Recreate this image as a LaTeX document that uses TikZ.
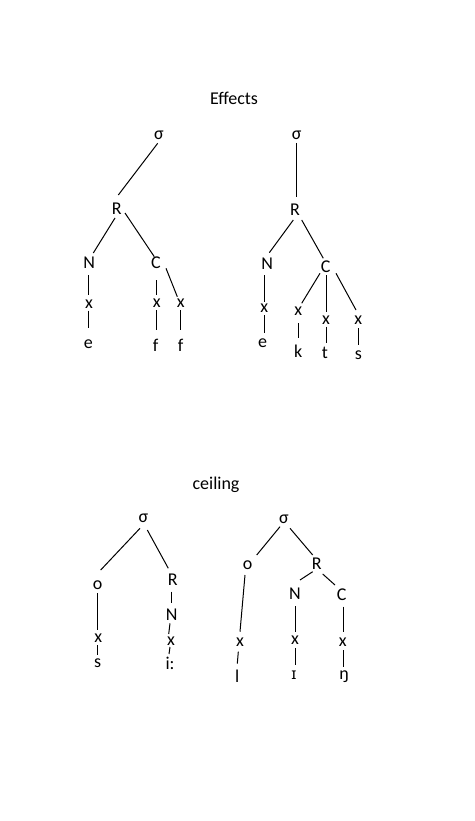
\documentclass[tikz,border=0pt]{standalone}
\usepackage{fontspec}
\setmainfont{Carlito}
\newfontfamily\ipafont{Noto Sans}
\begin{document}
\begin{tikzpicture}[x=1pt,y=-1pt,
  lab/.style={inner sep=0pt,font=\fontsize{18}{20}\selectfont},
  link/.style={line width=1pt}]
\useasboundingbox[fill=white] (0,0) rectangle (474,821);
% titles
\node[lab] (t1) at (234,98) {Effects};
\node[lab] (t2) at (216,485) {ceiling};
% ---- tree 1
\node[lab] (s1) at (159,135) {σ};
\node[lab] (R1) at (116.7,208.3) {R};
\node[lab] (N1) at (89.3,262.7) {N};
\node[lab] (xa) at (89,304) {x};
\node[lab] (e1) at (88.3,344) {e};
\node[lab] (C1) at (156,262.7) {C};
\node[lab] (xb) at (156.7,303) {x};
\node[lab] (f1) at (155.7,345) {f};
\node[lab] (xc) at (180.7,303.3) {x};
\node[lab] (f2) at (180.7,345) {f};
\draw[link] ([shift={(-1.3,8.3)}]s1.center) -- ([shift={(1.6,-13.3)}]R1.center);
\draw[link] ([shift={(-1.7,9.7)}]R1.center) -- ([shift={(4,-9.7)}]N1.center);
\draw[link] ([shift={(8.3,4.7)}]R1.center) -- ([shift={(-1.7,-6)}]C1.center);
\draw[link] ([shift={(-1,12.3)}]N1.center) -- ([shift={(-0.7,-9)}]xa.center);
\draw[link] ([shift={(-0.7,6.5)}]xa.center) -- ([shift={(0,-16)}]e1.center);
\draw[link] ([shift={(0.7,17.3)}]C1.center) -- ([shift={(0,-8)}]xb.center);
\draw[link] ([shift={(0,7)}]xb.center) -- ([shift={(1,-15)}]f1.center);
\draw[link] ([shift={(10,5.6)}]C1.center) -- ([shift={(-3.4,-6.6)}]xc.center);
\draw[link] ([shift={(0,6.7)}]xc.center) -- ([shift={(0,-15)}]f2.center);
% ---- tree 2
\node[lab] (s2) at (296.7,135) {σ};
\node[lab] (R2) at (295,209.3) {R};
\node[lab] (N2) at (267.3,264) {N};
\node[lab] (xd) at (264.3,308.3) {x};
\node[lab] (e2) at (262.7,343.3) {e};
\node[lab] (C2) at (325.7,266.7) {C};
\node[lab] (xe) at (298.3,311.7) {x};
\node[lab] (k2) at (298.3,351.7) {k};
\node[lab] (xf) at (326,320) {x};
\node[lab] (t2b) at (325,353.3) {t};
\node[lab] (xg) at (358.3,320) {x};
\node[lab] (s2b) at (358.3,355) {s};
\draw[link] ([shift={(-0.7,8)}]s2.center) -- ([shift={(1,-12.6)}]R2.center);
\draw[link] ([shift={(-1.7,10.7)}]R2.center) -- ([shift={(2,-11.3)}]N2.center);
\draw[link] ([shift={(6.7,10.7)}]R2.center) -- ([shift={(-2.4,-8.4)}]C2.center);
\draw[link] ([shift={(-3,11)}]N2.center) -- ([shift={(0,-6.6)}]xd.center);
\draw[link] ([shift={(0,6.7)}]xd.center) -- ([shift={(1.6,-10.3)}]e2.center);
\draw[link] ([shift={(-5.7,6.6)}]C2.center) -- ([shift={(3.4,-8.4)}]xe.center);
\draw[link] ([shift={(0,11.3)}]xe.center) -- ([shift={(0,-13.7)}]k2.center);
\draw[link] ([shift={(1,8.3)}]C2.center) -- ([shift={(0.7,-8.3)}]xf.center);
\draw[link] ([shift={(0,6.7)}]xf.center) -- ([shift={(1,-10.3)}]t2b.center);
\draw[link] ([shift={(10.3,6.6)}]C2.center) -- ([shift={(-2.3,-10)}]xg.center);
\draw[link] ([shift={(0,8)}]xg.center) -- ([shift={(0,-10)}]s2b.center);
% ---- tree 3
\node[lab] (s3) at (143.3,518.3) {σ};
\node[lab] (o3) at (97.7,585) {o};
\node[lab] (x3a) at (98.3,638.3) {x};
\node[lab] (ss3) at (97.7,663.3) {s};
\node[lab] (R3) at (172.7,580) {R};
\node[lab] (N3) at (171.7,615) {N};
\node[lab] (x3b) at (171,640.7) {x};
\node[lab] (i3) at (170,663.3) {i:};
\draw[link] ([shift={(-3.3,10)}]s3.center) -- ([shift={(3,-15)}]o3.center);
\draw[link] ([shift={(4,11.7)}]s3.center) -- ([shift={(-4.4,-11.7)}]R3.center);
\draw[link] ([shift={(0,8)}]o3.center) -- ([shift={(-0.6,-8.3)}]x3a.center);
\draw[link] ([shift={(-0.6,6.7)}]x3a.center) -- ([shift={(0,-8.3)}]ss3.center);
\draw[link] ([shift={(-1,11.7)}]R3.center) -- ([shift={(0,-11.7)}]N3.center);
\draw[link] ([shift={(-1.7,8.3)}]N3.center) -- ([shift={(-2.3,-6.7)}]x3b.center);
\draw[link] ([shift={(-1,6.3)}]x3b.center) -- ([shift={(-1,-9.3)}]i3.center);
% ---- tree 4
\node[lab] (s4) at (284,519.3) {σ};
\node[lab] (o4) at (247.7,565) {o};
\node[lab] (x4a) at (240,641.7) {x};
\node[lab] (l4) at (237.3,676.7) {l};
\node[lab] (R4) at (316.7,563.3) {R};
\node[lab] (N4) at (295,593.3) {N};
\node[lab] (x4b) at (295,640) {x};
\node[lab] (I4) at (294,675) {\ipafont\fontsize{16}{18}\selectfont ɪ};
\node[lab] (C4) at (341.7,595) {C};
\node[lab] (x4c) at (342.7,641.7) {x};
\node[lab] (ng4) at (344,676.7) {ŋ};
\draw[link] ([shift={(-4,7.4)}]s4.center) -- ([shift={(9,-10)}]o4.center);
\draw[link] ([shift={(6,9)}]s4.center) -- ([shift={(-4,-8.3)}]R4.center);
\draw[link] ([shift={(-2.7,10)}]o4.center) -- ([shift={(0,-10)}]x4a.center);
\draw[link] ([shift={(-1.7,10)}]x4a.center) -- ([shift={(0,-13)}]l4.center);
\draw[link] ([shift={(-4,8.4)}]R4.center) -- ([shift={(5,-13.3)}]N4.center);
\draw[link] ([shift={(6,10.7)}]R4.center) -- ([shift={(-6.7,-10)}]C4.center);
\draw[link] ([shift={(0,12.7)}]N4.center) -- ([shift={(0,-8.3)}]x4b.center);
\draw[link] ([shift={(0,8)}]x4b.center) -- ([shift={(1,-10)}]I4.center);
\draw[link] ([shift={(1.3,11.7)}]C4.center) -- ([shift={(0.3,-10)}]x4c.center);
\draw[link] ([shift={(0.3,8.3)}]x4c.center) -- ([shift={(-1,-10)}]ng4.center);
\end{tikzpicture}
\end{document}
